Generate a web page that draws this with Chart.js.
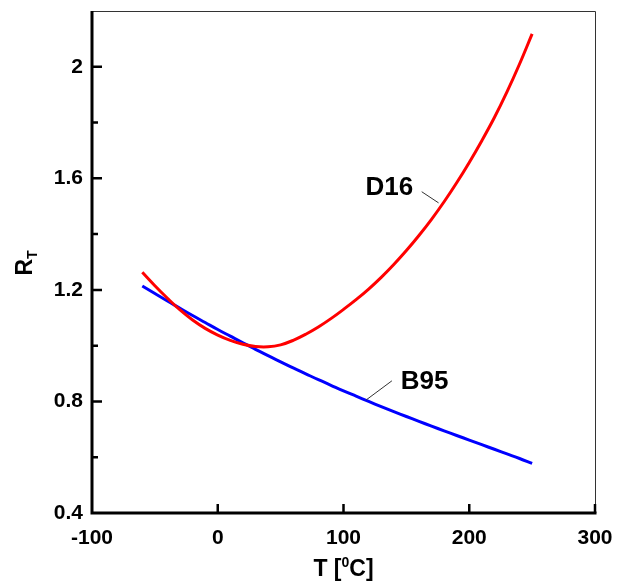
<!DOCTYPE html>
<html>
<head>
<meta charset="utf-8">
<script src="https://cdn.jsdelivr.net/npm/chart.js@4.4.0/dist/chart.umd.min.js"></script>
<style>
  html, body { margin: 0; padding: 0; background: #fff; }
</style>
</head>
<body>
<canvas id="rtChart" width="618" height="583"></canvas>
<script>
// Temperature grid [deg C] shared by both curves
const temps = [-60, -50, -40, -30, -20, -10, 0, 10, 20, 30, 40, 50, 60, 70, 80, 90, 100,
               110, 120, 130, 140, 150, 160, 170, 180, 190, 200, 210, 220, 230, 240, 250];

// R_T values
const d16 = [1.263, 1.215, 1.170, 1.128, 1.092, 1.062, 1.038, 1.019, 1.005, 0.997, 0.996, 1.003,
             1.019, 1.041, 1.067, 1.097, 1.130, 1.165, 1.203, 1.245, 1.291, 1.341, 1.395, 1.453,
             1.516, 1.584, 1.657, 1.735, 1.818, 1.910, 2.010, 2.118];
const b95 = [1.214, 1.187, 1.160, 1.134, 1.108, 1.083, 1.058, 1.034, 1.010, 0.987, 0.964, 0.942,
             0.920, 0.899, 0.878, 0.858, 0.838, 0.819, 0.800, 0.7815, 0.7635, 0.746, 0.7285, 0.7115,
             0.6945, 0.678, 0.6615, 0.645, 0.6285, 0.612, 0.5955, 0.578];

const xTicks = [-100, 0, 100, 200, 300];
const yLabelled = [0.4, 0.8, 1.2, 1.6, 2];

const FONT = '"Liberation Sans", Arial, sans-serif';

// curve labels with leader lines (data coords)
const callouts = [
    { text: 'D16', at: [117.5, 1.566], from: [162.2, 1.552], to: [175.6, 1.512] },
    { text: 'B95', at: [145.5, 0.870], from: [138.5, 0.874], to: [117.9, 0.805] }
];

const pts = vals => temps.map((t, i) => ({ x: t, y: vals[i] }));

const noPad = s => { s.paddingTop = 0; s.paddingBottom = 0; s.paddingLeft = 0; s.paddingRight = 0; };

const framePlugin = {
    id: 'frame',
    afterDraw(chart) {
        const { ctx, chartArea: a, scales: { x, y } } = chart;
        ctx.save();

        // thin top / right border
        ctx.strokeStyle = '#333';
        ctx.lineWidth = 1;
        ctx.beginPath();
        ctx.moveTo(a.left, a.top + 0.5);
        ctx.lineTo(a.right + 0.5, a.top + 0.5);
        ctx.lineTo(a.right + 0.5, a.bottom);
        ctx.stroke();

        // thick left / bottom axes
        ctx.strokeStyle = '#000';
        ctx.lineWidth = 3;
        ctx.beginPath();
        ctx.moveTo(a.left, a.top);
        ctx.lineTo(a.left, a.bottom);
        ctx.lineTo(a.right + 1.5, a.bottom);
        ctx.stroke();

        // inward tick marks
        ctx.lineWidth = 2.5;
        ctx.beginPath();
        y.ticks.forEach(t => {
            if (t.value <= 0.41 || t.value >= 2.19) return;
            const py = y.getPixelForValue(t.value);
            const len = t.label ? 10 : 6;
            ctx.moveTo(a.left, py);
            ctx.lineTo(a.left + len, py);
        });
        x.ticks.forEach(t => {
            if (t.value <= -100) return;
            const px = x.getPixelForValue(t.value);
            ctx.moveTo(px, a.bottom);
            ctx.lineTo(px, a.bottom - 9);
        });
        ctx.stroke();

        // callouts
        ctx.fillStyle = '#000';
        ctx.font = 'bold 26px ' + FONT;
        ctx.textBaseline = 'middle';
        ctx.textAlign = 'left';
        callouts.forEach(c => {
            ctx.fillText(c.text, x.getPixelForValue(c.at[0]), y.getPixelForValue(c.at[1]));
            ctx.strokeStyle = '#333';
            ctx.lineWidth = 1;
            ctx.beginPath();
            ctx.moveTo(x.getPixelForValue(c.from[0]), y.getPixelForValue(c.from[1]));
            ctx.lineTo(x.getPixelForValue(c.to[0]), y.getPixelForValue(c.to[1]));
            ctx.stroke();
        });

        // x title: T [^0 C]
        const big = 'bold 23px ' + FONT, small = 'bold 14px ' + FONT;
        ctx.textBaseline = 'alphabetic';
        ctx.font = big;
        const w1 = ctx.measureText('T [').width, w3 = ctx.measureText('C]').width;
        ctx.font = small;
        const w2 = ctx.measureText('0').width;
        let sx = (a.left + a.right) / 2 - (w1 + w2 + w3) / 2;
        const by = 576;
        ctx.font = big; ctx.fillText('T [', sx, by); sx += w1;
        ctx.font = small; ctx.fillText('0', sx, by - 9); sx += w2;
        ctx.font = big; ctx.fillText('C]', sx, by);

        // y title: R_T rotated
        ctx.translate(32, 263);
        ctx.rotate(-Math.PI / 2);
        ctx.font = 'bold 23px ' + FONT;
        const rw = ctx.measureText('R').width;
        ctx.font = small;
        const tw = ctx.measureText('T').width;
        const ox = -(rw + tw) / 2;
        ctx.font = 'bold 23px ' + FONT; ctx.fillText('R', ox, 0);
        ctx.font = small; ctx.fillText('T', ox + rw, 5);

        ctx.restore();
    }
};

const ctx = document.getElementById('rtChart').getContext('2d');

new Chart(ctx, {
    type: 'line',
    data: {
        datasets: [
            {
                label: 'D16',
                data: pts(d16),
                borderColor: '#ff0000',
                backgroundColor: 'transparent',
                borderWidth: 3,
                pointRadius: 0,
                tension: 0.4
            },
            {
                label: 'B95',
                data: pts(b95),
                borderColor: '#0000ff',
                backgroundColor: 'transparent',
                borderWidth: 3,
                pointRadius: 0,
                tension: 0.4
            }
        ]
    },
    options: {
        responsive: false,
        maintainAspectRatio: false,
        animation: false,
        layout: { padding: { top: 11, right: 23, left: 0, bottom: 0 } },
        plugins: {
            legend: { display: false },
            tooltip: { enabled: false }
        },
        scales: {
            x: {
                type: 'linear',
                min: -100,
                max: 300,
                afterFit: s => { s.height = 70; noPad(s); },
                afterBuildTicks: s => { s.ticks = xTicks.map(v => ({ value: v })); },
                grid: { display: false, drawTicks: false },
                border: { display: false },
                ticks: {
                    autoSkip: false,
                    maxRotation: 0,
                    padding: 13,
                    color: '#000',
                    font: { family: FONT, size: 21, weight: 'bold' }
                }
            },
            y: {
                type: 'linear',
                min: 0.4,
                max: 2.2,
                afterFit: s => { s.width = 92; noPad(s); },
                grid: { display: false, drawTicks: false },
                border: { display: false },
                ticks: {
                    stepSize: 0.2,
                    autoSkip: false,
                    padding: 9,
                    color: '#000',
                    font: { family: FONT, size: 21, weight: 'bold' },
                    callback: v => {
                        const r = Math.round(v * 10) / 10;
                        return yLabelled.some(l => Math.abs(l - r) < 1e-6) ? String(r) : '';
                    }
                }
            }
        }
    },
    plugins: [framePlugin]
});
</script>
</body>
</html>
